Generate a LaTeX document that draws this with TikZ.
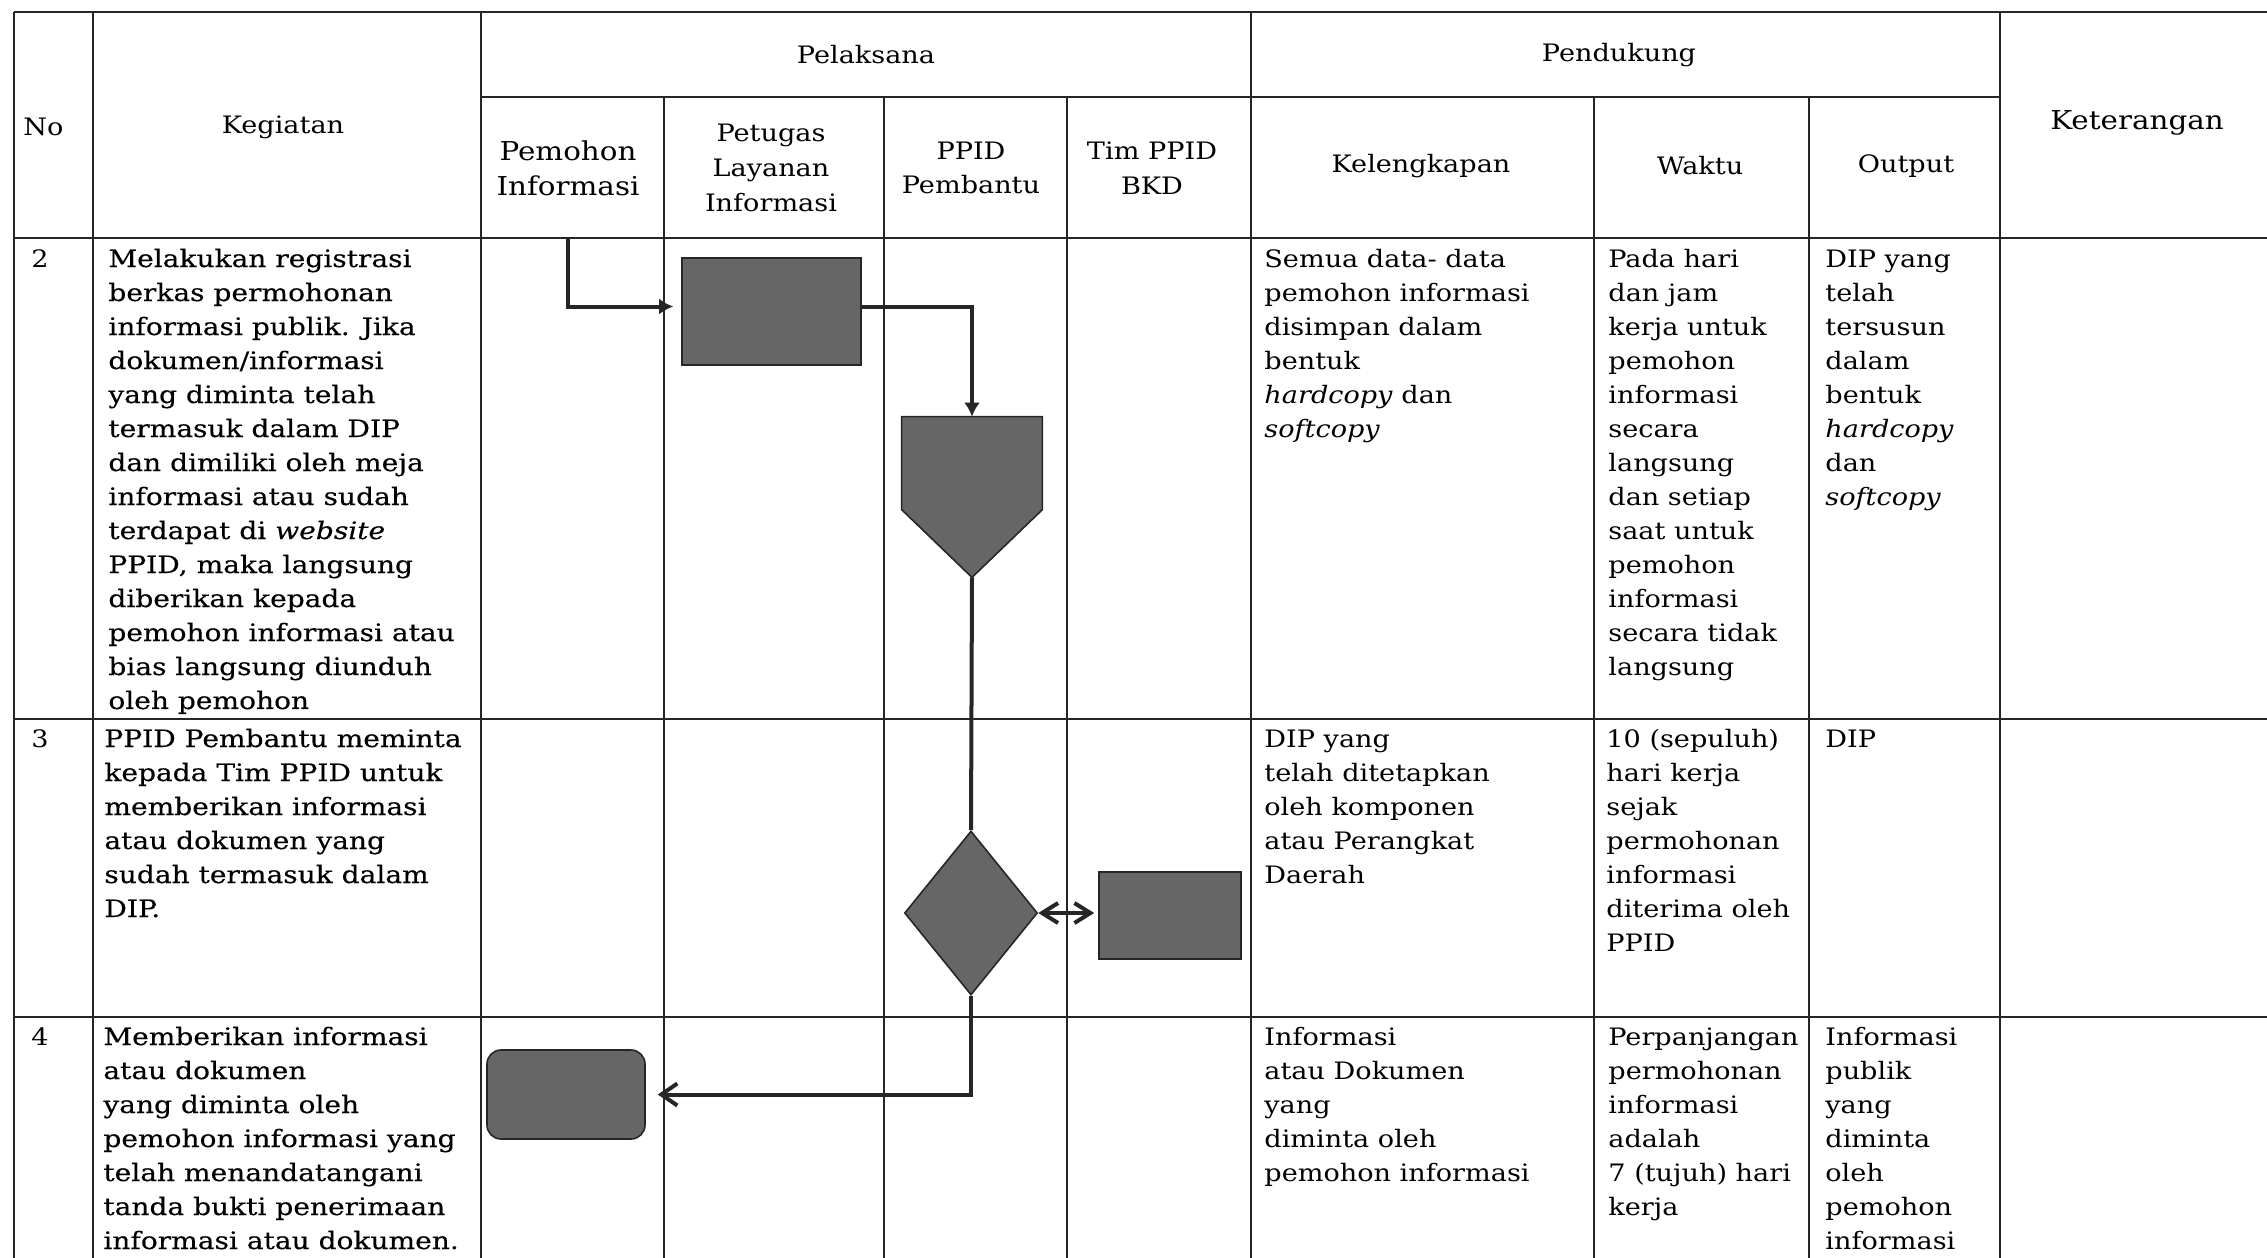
\documentclass[tikz,border=0pt]{standalone}
\usepackage{fontspec}
\setmainfont{DejaVu Serif}[FakeStretch=1.13]
\newfontfamily\kegfont{DejaVu Serif}[FakeStretch=1.17,FakeBold=0.3]
\usetikzlibrary{shapes.geometric,arrows.meta,calc}
\newcommand{\mylines}[1]{\begin{tabular}[t]{@{}l@{}}#1\end{tabular}}
\begin{document}
\begin{tikzpicture}[x=0.5pt,y=-0.5pt,
  grid/.style={line width=0.9pt, black!85},
  txt/.style={anchor=base west, inner sep=0pt, font=\fontsize{12pt}{17pt}\selectfont},
  ktxt/.style={txt, font=\kegfont\fontsize{12pt}{17pt}\selectfont},
  hdr/.style={anchor=center, inner sep=0pt, align=center, font=\fontsize{12pt}{17.3pt}\selectfont},
  bighdr/.style={hdr, font=\fontsize{13pt}{17.5pt}\selectfont},
  shp/.style={fill=black!60, draw=black!85, line width=0.8pt, inner sep=0pt},
  flow/.style={line width=2pt, black!85},
  ]
\useasboundingbox (0,0) rectangle (2267,1258);
% ---- table grid ----
\draw[grid] (14,12) -- (2267,12);
\draw[grid] (481,97) -- (2000,97);
\draw[grid] (14,238) -- (2267,238);
\draw[grid] (14,719) -- (2267,719);
\draw[grid] (14,1017) -- (2267,1017);
\foreach \x in {14,93,481,1251,2000} \draw[grid] (\x,12) -- (\x,1258);
\foreach \x in {664,884,1067,1594,1809} \draw[grid] (\x,97) -- (\x,1258);
% ---- header ----
\node[hdr, anchor=west] (hno) at (23,127) {No};
\node[hdr] (hkeg) at (283,127) {Kegiatan};
\node[hdr] (hpel) at (866,55) {Pelaksana};
\node[bighdr] (hpem) at (568,168) {Pemohon\\Informasi};
\node[hdr] (hpet) at (771,168) {Petugas\\Layanan\\Informasi};
\node[hdr] (hppid) at (971,168) {PPID\\Pembantu};
\node[hdr] (htim) at (1152,168) {Tim PPID\\BKD};
\node[hdr] (hpend) at (1619,55) {Pendukung};
\node[hdr] (hkel) at (1421,166) {Kelengkapan};
\node[hdr] (hwak) at (1700,166) {Waktu};
\node[hdr] (hout) at (1906,166) {Output};
\node[bighdr] (hket) at (2137,123) {Keterangan};
% ---- row 2 ----
\node[txt, anchor=base] (n2) at (40,267) {2};
\node[ktxt] (k2) at (108,267) {\mylines{Melakukan registrasi\\berkas permohonan\\informasi publik. Jika\\dokumen/informasi\\yang diminta telah\\termasuk dalam DIP\\dan dimiliki oleh meja\\informasi atau sudah\\terdapat di \textit{website}\\PPID, maka langsung\\diberikan kepada\\pemohon informasi atau\\bias langsung diunduh\\oleh pemohon}};
\node[txt] (l2) at (1264,267) {\mylines{Semua data- data\\pemohon informasi\\disimpan dalam\\bentuk\\\textit{hardcopy} dan\\\textit{softcopy}}};
\node[txt] (w2) at (1608,267) {\mylines{Pada hari\\dan jam\\kerja untuk\\pemohon\\informasi\\secara\\langsung\\dan setiap\\saat untuk\\pemohon\\informasi\\secara tidak\\langsung}};
\node[txt] (o2) at (1825,267) {\mylines{DIP yang\\telah\\tersusun\\dalam\\bentuk\\\textit{hardcopy}\\dan\\\textit{softcopy}}};
% ---- row 3 ----
\node[txt, anchor=base] (n3) at (40,747) {3};
\node[ktxt] (k3) at (104,747) {\mylines{PPID Pembantu meminta\\kepada Tim PPID untuk\\memberikan informasi\\atau dokumen yang\\sudah termasuk dalam\\DIP.}};
\node[txt] (l3) at (1264,747) {\mylines{DIP yang\\telah ditetapkan\\oleh komponen\\atau Perangkat\\Daerah}};
\node[txt] (w3) at (1606,747) {\mylines{10 (sepuluh)\\hari kerja\\sejak\\permohonan\\informasi\\diterima oleh\\PPID}};
\node[txt] (o3) at (1825,747) {DIP};
% ---- row 4 ----
\node[txt, anchor=base] (n4) at (40,1045) {4};
\node[ktxt] (k4) at (103,1045) {\mylines{Memberikan informasi\\atau dokumen\\yang diminta oleh\\pemohon informasi yang\\telah menandatangani\\tanda bukti penerimaan\\informasi atau dokumen.}};
\node[txt] (l4) at (1264,1045) {\mylines{Informasi\\atau Dokumen\\yang\\diminta oleh\\pemohon informasi}};
\node[txt] (w4) at (1608,1045) {\mylines{Perpanjangan\\permohonan\\informasi\\adalah\\7 (tujuh) hari\\kerja}};
\node[txt] (o4) at (1825,1045) {\mylines{Informasi\\publik\\yang\\diminta\\oleh\\pemohon\\informasi}};
% ---- flow shapes ----
\node[shp, minimum width=89.5pt, minimum height=53.5pt] (box1) at (771.5,311.5) {};
\node[inner sep=0pt, minimum width=70pt, minimum height=80pt] (pent) at (972,497) {};
\filldraw[shp] (pent.north west) -- (pent.north east) -- ($(pent.north east)+(0,93)$) -- (pent.south) -- ($(pent.north west)+(0,93)$) -- cycle;
\node[diamond, shp, minimum width=66.5pt, minimum height=82pt] (dia) at (971,913) {};
\node[shp, minimum width=71pt, minimum height=43.5pt] (tim) at (1170,915.5) {};
\node[shp, rounded corners=7pt, minimum width=79pt, minimum height=44.5pt] (pem) at (566,1094.5) {};
% ---- connectors ----
\coordinate (start) at (568,238);
\draw[flow, -{Latex[length=7pt,width=8pt]}, shorten >=4pt] (start) |- ([yshift=2.5pt]box1.west);
\draw[flow, -{Latex[length=7pt,width=8pt]}] ([yshift=2.5pt]box1.east) -| (pent.north);
\draw[flow] (pent.south) -- (dia.north);
\draw[flow, {Straight Barb[length=8pt,width=10pt]}-{Straight Barb[length=8pt,width=10pt]}, shorten >=2pt] (dia.east) -- (dia.east -| tim.west);
\draw[flow, -{Straight Barb[length=8pt,width=11pt]}, shorten >=6pt] (dia.south) |- (pem.east);
\end{tikzpicture}
\end{document}
